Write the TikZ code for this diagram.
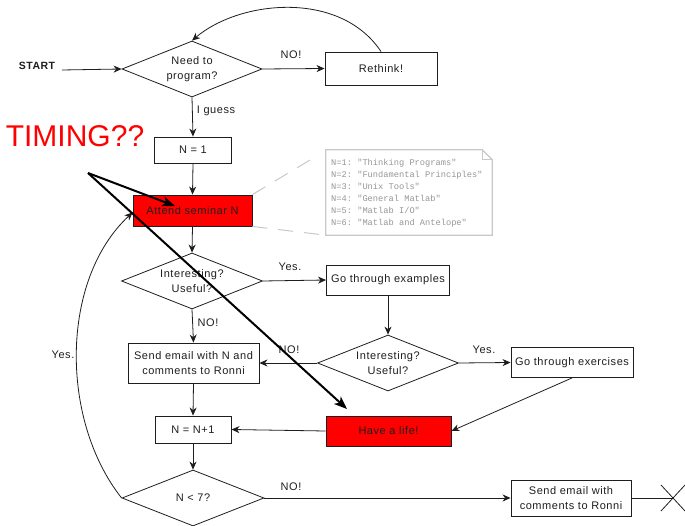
\documentclass[tikz,border=0pt]{standalone}
\usepackage{fontspec}
\setmainfont{Liberation Sans}[LetterSpace=5]
\setmonofont{Liberation Mono}
\newfontfamily\timingfont{Liberation Sans}
\usetikzlibrary{shapes.geometric,arrows.meta,calc}
\definecolor{ink}{RGB}{30,30,30}
\definecolor{notegray}{RGB}{150,150,150}
\definecolor{noteline}{RGB}{200,200,200}
\newcommand{\nf}{\fontsize{11}{15}\selectfont}
\begin{document}
\begin{tikzpicture}[x=1pt,y=-1pt,
  every node/.style={text=ink},
  boxnode/.style={draw=ink, line width=0.9pt, rectangle, inner sep=1pt, align=center, font=\nf},
  dia/.style={diamond, aspect=2.5, draw=ink, line width=0.8pt, inner sep=0pt, align=center, font=\nf},
  arr/.style={draw=ink, line width=0.8pt, -{Stealth[length=8pt,width=7pt,inset=2.5pt]}},
  plain/.style={draw=ink, line width=0.8pt},
  lab/.style={font=\nf, inner sep=0pt},
  bigarr/.style={draw=black, line width=2pt, -{Stealth[length=13pt,width=10pt,inset=3.5pt]}},
  dashline/.style={draw=noteline, line width=1pt, dash pattern=on 15pt off 11pt}]
\useasboundingbox (0,0) rectangle (685,526);

% nodes
\node[font=\fontsize{10.5}{12}\selectfont\bfseries, inner sep=0pt] (start) at (37,66) {START};
\node[dia, minimum width=140pt, minimum height=56pt] (d1) at (192,69) {Need to\\program?};
\node[boxnode, minimum width=112pt, minimum height=33pt] (rethink) at (381,68.5) {Rethink!};
\node[boxnode, minimum width=77pt, minimum height=26pt] (n1) at (193,150) {N = 1};
\node[boxnode, fill=red, minimum width=119pt, minimum height=31pt] (attend) at (192.5,210.5) {Attend seminar N};
\node[dia, minimum width=141pt, minimum height=56pt] (d2) at (192,281) {Interesting?\\Useful?};
\node[boxnode, minimum width=123pt, minimum height=30pt] (ex) at (388,280) {Go through examples};
\node[dia, minimum width=141pt, minimum height=56pt] (d3) at (388,363) {Interesting?\\Useful?};
\node[boxnode, minimum width=122pt, minimum height=30pt] (exer) at (572,362.5) {Go through exercises};
\node[boxnode, minimum width=131pt, minimum height=40pt] (send1) at (193.5,363) {Send email with N and\\comments to Ronni};
\node[boxnode, minimum width=76pt, minimum height=27pt] (nn1) at (193,429.5) {N = N+1};
\node[boxnode, fill=red, minimum width=125pt, minimum height=30pt] (life) at (388.5,431) {Have a life!};
\node[dia, minimum width=142pt, minimum height=56pt] (d4) at (193,498) {N < 7?};
\node[boxnode, minimum width=120pt, minimum height=36pt] (send2) at (571,498) {Send email with\\comments to Ronni};

% note
\node[rectangle, minimum width=166pt, minimum height=85pt, inner sep=0pt] (note) at (409,192.5) {};
\node[anchor=west, align=left, inner sep=0pt, text=notegray,
  font=\ttfamily\fontsize{8.7}{12}\selectfont] (notetext) at (331,193)
  {N=1: "Thinking Programs"\\N=2: "Fundamental Principles"\\N=3: "Unix Tools"\\N=4: "General Matlab"\\N=5: "Matlab I/O"\\N=6: "Matlab and Antelope"};
\draw[noteline, line width=1.2pt] (note.north west) -- ($(note.north east)+(-10,0)$) -- ($(note.north east)+(0,10)$) -- (note.south east) -- (note.south west) -- cycle;
\draw[noteline, line width=0.8pt] ($(note.north east)+(-10,0)$) -- ($(note.north east)+(-10,10)$) -- ($(note.north east)+(0,10)$);
\coordinate (noteend) at (315,157);
\draw[dashline] (attend.north east) -- (noteend);
\draw[dashline] (attend.south east) -- (note.south west);

% labels
\node[lab] (lno1) at (291,55) {NO!};
\node[lab] (lguess) at (216,111) {I guess};
\node[lab] (lyes1) at (290,267) {Yes.};
\node[lab] (lno2) at (208,323) {NO!};
\node[lab] (lno3) at (289,350) {NO!};
\node[lab] (lyes2) at (484,350) {Yes.};
\node[lab] (lyes3) at (63,355) {Yes.};
\node[lab] (lno4) at (291,487) {NO!};
\node[font=\timingfont\fontsize{30}{32}\selectfont, text=red, inner sep=0pt] (timing) at (75,136) {TIMING??};

% connectors
\coordinate (startend) at (62,70);
\draw[arr] (startend) -- (d1.west);
\draw[arr] (d1.east) -- (rethink.west);
\draw[arr] (rethink.north) .. controls (340,-10) and (240,0) .. (d1.north);
\draw[arr] (d1.south) -- (n1.north);
\draw[arr] (n1.south) -- (attend.north);
\draw[arr] (attend.south) -- (d2.north);
\draw[arr] (d2.east) -- (ex.west);
\draw[arr] (ex.south) -- (d3.north);
\draw[arr] (d3.east) -- (exer.west);
\draw[arr] (d3.west) -- (send1.east);
\draw[arr] (d2.south) -- (send1.north);
\draw[arr] (send1.south) -- (nn1.north);
\draw[arr] (exer.south) -- (life.east);
\draw[arr] (life.west) -- (nn1.east);
\draw[arr] (nn1.south) -- (d4.north);
\draw[arr] (d4.east) -- (send2.west);
\draw[arr] (d4.west) .. controls (60,420) and (60,280) .. ([yshift=-2pt]attend.west);

% end cross
\coordinate (endx) at (673,498);
\draw[plain] (send2.east) -- (endx);
\draw[plain] ($(endx)+(-12,-13)$) -- ($(endx)+(12,13)$);
\draw[plain] ($(endx)+(-12,13)$) -- ($(endx)+(12,-13)$);

% big arrows
\coordinate (tstart) at (88,173);
\coordinate (t1) at (175,206);
\coordinate (t2) at (347,409);
\draw[bigarr] (tstart) -- (t1);
\draw[bigarr] (tstart) -- (t2);
\end{tikzpicture}
\end{document}
